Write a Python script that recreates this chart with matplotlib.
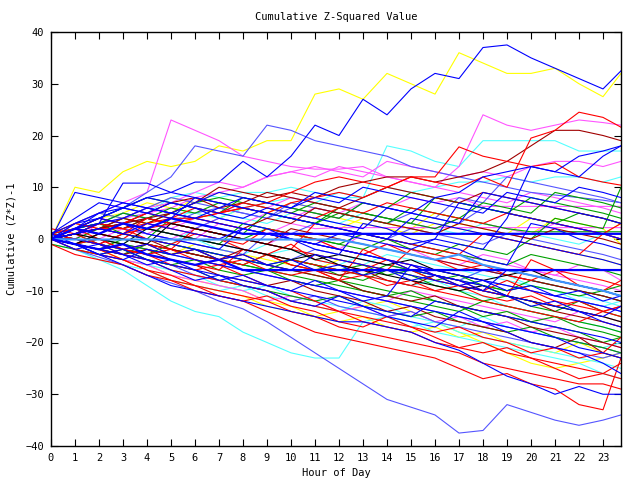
import matplotlib
matplotlib.use("Agg")
import matplotlib.pyplot as plt

# hour of day sample points
hours = list(range(24)) + [23.75]

# cumulative (Z*Z)-1 per run at each hour
red_runs = [
    [0, 1, 2, 2, 3, 4, 4, 5, 6, 5, 7, 8, 9, 8, 10, 12, 11, 10, 12, 10, 19.5, 21, 24.5, 23.5, 21.6],
    [0, 0, -1, 1, 2, 3, 4, 5, 6, 7, 9, 11, 12, 11, 10, 12, 12, 17.8, 16, 15, 14, 14.7, 12, 11, 10.4],
    [1, 0, -1, -3, -4, -6, -7, -8, -9, -10, -12, -13, -14, -15, -16, -17, -19, -21, -22, -21, -23, -25, -27, -26, -24],
    [0, -1, -2, -4, -6, -8, -10, -11, -12, -14, -16, -18, -19, -20, -21, -22, -23, -25, -27, -26, -28, -29, -32, -33, -23],
    [2, 1, 3, 2, 0, -1, 1, 0, -2, -3, -1, -4, -5, -6, -4, -6, -8, -9, -10, -8, -10, -12, -13, -14, -13],
    [0, 2, 1, 0, 3, 2, 1, 0, -1, 2, 1, 0, -2, -3, -1, -3, -4, -6, -5, -7, -8, -6, -9, -10, -11],
    [-1, -3, -4, -5, -7, -8, -9, -11, -12, -11, -13, -14, -16, -17, -15, -17, -18, -17, -19, -20, -22, -21, -23, -22, -19],
    [0, -1, -2, -1, -3, -5, -6, -5, -7, -9, -10, -12, -14, -16, -17, -18, -20, -21, -20, -22, -23, -24, -25, -26, -27],
    [1, 2, 0, -2, -1, -3, -2, -4, -5, -3, -5, -6, -8, -2, -4, -5, -7, -8, -10, -11, -4, -6, -7, -8, -9],
    [0, -1, 1, 0, -1, -2, 2, 1, 0, -1, -2, 3, 2, 1, 0, -1, -2, -3, 1, 0, -1, -2, -3, 1, 0],
    [1, 3, 2, 1, 4, 3, 2, 1, 0, -1, -2, -3, -4, -5, -6, -2, -3, -4, -5, -6, -7, -8, -9, -10, -8],
    [0, -2, -3, -4, -6, -7, -9, -10, -11, -12, -14, -15, -17, -18, -19, -20, -21, -22, -24, -25, -26, -27, -28, -28, -29],
    [0, 1, -1, -2, -3, -4, -5, -6, -2, -3, -4, -5, -6, -7, -8, -9, -10, -11, -12, -13, -14, -15, -16, -14, -15],
    [0, 2, 4, 3, 5, 4, 6, 5, 7, 6, 5, 4, 6, 5, 7, 6, 5, 4, 3, 5, 4, 3, 2, 1, 3],
    [0, -1, 0, -2, -3, -2, -4, -5, -4, -6, -7, -6, -8, -7, -9, -8, -10, -9, -11, -12, -11, -13, -12, -14, -13],
]
green_runs = [
    [0, 1, 2, 4, 3, 5, 7, 8, 7, 6, 5, 7, 6, 5, 4, 3, 2, 4, 3, 2, 1.4, 1.4, 1.4, 1.4, 1.4],
    [0, -1, 1, 3, 2, 1, 0, -1, 3, 2, 1, 0, -1, 1, 0, -2, -3, -1, -2, -3, 0, 4, 3, 2, 10],
    [1, 0, -1, -2, -4, -5, -6, -8, -9, -10, -11, -12, -11, -13, -14, -15, -14, -16, -17, -18, -17, -19, -20, -21, -22],
    [0, 2, 3, 1, 0, 4, 3, 2, 1, 5, 4, 3, 6, 5, 4, 3, 8, 7, 6, 5, 4, 3, 5, 4, 3],
    [-1, -2, -3, -2, -4, -5, -4, -6, -7, -6, -8, -9, -8, -10, -11, -10, -12, -13, -15, -14, -16, -15, -17, -18, -19],
    [0, 1, -1, -2, -3, -1, -2, -4, -5, -6, -4, -5, -7, -8, -6, -7, -9, -10, -12, -11, -13, -14, -12, -14, -15],
    [0, -1, -2, -3, -1, -2, -3, -4, -5, -3, -4, -5, -6, -7, -5, -6, -7, -8, -9, -10, -8, -9, -10, -11, -12],
    [1, 2, 3, 5, 4, 3, 2, 1, 0, 2, 1, 0, -1, -2, 0, -1, -2, -3, -4, -5, -3, -4, -5, -6, -7],
    [0, 0, 2, 1, 0, -1, -2, -3, -4, -5, -6, -7, -8, -9, -10, -11, -12, -13, -14, -15, -16, -17, -18, -20, -19],
    [0, 2, 4, 6, 8, 7, 6, 5, 8, 7, 6, 5, 4, 7, 6, 9, 8, 7, 6, 5, 8, 7, 6, 5, 4],
    [0, 1, 3, 2, 4, 6, 5, 7, 6, 5, 4, 3, 5, 4, 3, 6, 5, 4, 7, 6, 5, 9, 8, 7, 6],
    [0, -1, 0, -1, -2, -3, -2, -3, -4, -5, -4, -5, -6, -5, -7, -6, -8, -7, -9, -10, -9, -10, -11, -10, -9],
    [0, -1, -2, 0, -1, -2, -3, -4, -5, -6, -7, -8, -9, -10, -11, -12, -13, -14, -12, -13, -14, -15, -16, -17, -18],
]
blue_runs = [
    [0, 2, 4, 6, 8, 9, 11, 11, 15, 12, 16, 22, 20, 27, 24, 29, 32, 31, 37, 37.5, 35, 33, 31, 29, 32.5],
    [0, 2, 3, 4, 6, 5, 4, 6, 8, 7, 6, 9, 8, 7, 6, 5, 8, 9, 12, 13, 14, 13, 16, 17, 18],
    [0, 1, 2, 1, 3, 2, 1, 0, 2, 1, 0, -1, 1, 0, -1, -2, 0, -1, -2, 4, 14, 13, 12, 16, 18],
    [0, -1, -3, -5, -7, -9, -10, -11, -12, -13, -14, -15, -16, -16, -17, -18, -20, -21.5, -24, -26.5, -28, -30, -28.5, -30, -30],
    [0, 9, 8, 7, 6, 5, 4, 3, 2, 1, 0, -1, -2, -3, -4, -5, -6, -7, -8, -9, -10, -11, -12, -13, -14],
    [0, 1, 3, 10.8, 10.8, 9, 8, 7, 6, 5, 4, 3, 2, 1, 0, -1, 0, 7, 6, 5, 4, 3, 2, 1, 0],
    [1, -1, -3, -2, -4, -6, -8, -7, -9, -10, -12, -13, -11, -13, -15, -16, -17, -14, -16, -18, -20, -21, -22, -24, -26],
    [0, 2, 4, 3, 1, 0, -1, -2, 2, 1, 0, -2, -3, 3, 2, 0, -1, -2, -4, -5, 3, 2, 0, -1, -2],
    [0, 3, 5, 6, 5, 7, 6, 4, 3, 2, 0, -1, -2, -3, -4, -6, -7, -8, -9, -11, -12, -13, -14, -16, -17],
    [0, -2, -1, -3, -5, -4, -6, -8, -7, -9, -10, -8, -10, -12, -11, -5, -7, -8, -10, -11, -13, -12, -14, -15, -13],
    [0, 1, 2, 1, 0, -1, -2, -3, -4, -5, -6, -3, -4, -5, -6, -7, -8, -9, -10, -6, -7, -8, -9, -10, -11],
    [0, -1, -2, -3, -4, -5, -6, -7, -8, -9, -10, -11, -12, -13, -14, -15, -12, -13, -14, -15, -16, -17, -18, -19, -20],
    [1, 4, 7, 6, 5, 4, 8, 7, 6, 5, 4, 3, 2, 1, 0, 4, 3, 2, 1, 0, -1, -2, -3, -4, -5],
    [0, -1, -3, -4, -2, -3, -4, -5, -6, -7, -8, -9, -10, -11, -12, -13, -14, -15, -16, -17, -18, -19, -21, -22, -23],
    [0, 2, 5, 7, 6, 5, 7, 9, 8, 7, 6, 8, 7, 10, 9, 8, 7, 6, 5, 9, 8, 7, 10, 9, 8],
    [1, 3, 4, 6, 8, 7, 6, 5, 4, 6, 5, 4, 3, 2, 6, 5, 4, 3, 9, 8, 7, 6, 5, 4, 3],
    [0, 0, -1, -2, -1, -3, -2, -4, -3, -5, -4, -6, -5, -7, -6, -8, -7, -9, -8, -10, -9, -11, -10, -12, -11],
]
thick_blue_runs = [
    [0, 2, 1, 3, 2, 4, 3, 2, 1, 1, 1, 1, 1, 1, 1, 1, 1, 1, 1, 1, 1, 1, 1, 1, 1],
    [0, -1, -2, -1, -3, -4, -5, -4, -6, -6, -6, -6, -6, -6, -6, -6, -6, -6, -6, -6, -6, -6, -6, -6, -6],
]
magenta_runs = [
    [0, 3, 5, 7, 9, 23, 21, 19, 16, 15, 14, 13.5, 13.5, 14, 12, 11, 10, 14, 24, 22, 21, 22, 23, 22.5, 22],
    [0, 1, 2, 4, 5, 6, 8, 9, 10, 12, 13, 14, 13, 12, 15, 14, 13, 12, 13, 12, 14, 15, 15, 14, 15],
    [0, 1, 0, 2, 1, 3, 2, 4, 3, 5, 4, 6, 5, 7, 6, 8, 7, 8, 6.3, 6.3, 6.3, 6.3, 6.3, 6.3, 6.3],
    [0, 1, 2, 1, 3, 2, 4, 3, 2, 1, 3, 2, 2.2, 2.2, 2.2, 2.2, 2.2, 2.2, 2.2, 2.2, 2.2, 2.2, 2.2, 2.2, 2.2],
    [0, -2, -3, -4, -5, -7, -8, -9, -10, -12, -11, -12, -14, -13, -15, -14, -16, -15, -17, -16, -18, -17, -19, -20, -21],
    [1, 0, 3, 2, 1, 0, 2, 1, 0, -1, 1, 0, -2, -3, -1, -2, -4, -5, -3, -4, -6, -7, -5, -6, -8],
    [0, 1, 3, 4, 6, 7, 9, 11, 10, 12, 13, 12, 14, 13, 12, 11, 10, 9, 8, 7, 9, 8, 7, 6, 5],
    [0, -1, -2, -3, -1, -2, -3, -4, -6, -7, -8, -9, -10, -11, -12, -10, -11, -12, -13, -14, -15, -16, -14, -15, -16],
    [0, 2, 1, 3, 2, 1, 0, 3, 2, 1, 0, -1, -2, 1, 0, -1, -2, -3, -4, -5, -6, -7, -8, -9, -10],
    [0, 2, 4, 3, 5, 7, 6, 5, 7, 6, 8, 7, 6, 5, 4, 3, 2, 4, 3, 2, 1, 3, 2, 1, 0],
]
cyan_runs = [
    [0, 2, 3, 4, 5, 8, 9, 8, 9, 9, 10, 9, 8, 8, 18, 17, 15, 14, 19, 19, 19, 19, 17, 17, 17],
    [0, 1, 2, 3, 4, 5, 5, 4, 6, 7, 8, 7, 9, 8, 10, 9, 10, 11, 11, 12, 11, 12, 12, 11, 12],
    [0, -2, -4, -6, -9, -12, -14, -15, -18, -20, -22, -23, -23, -16, -15, -16, -18, -19, -20, -21, -22, -23, -24, -26, -27],
    [0, 1, 0, -1, 2, 1, 0, -2, -3, -1, -2, -4, -5, -3, -4, -6, -7, -8, -6, -7, -9, -10, -12, -13, -12],
    [-1, -2, -4, -5, -6, -8, -9, -10, -9, -11, -12, -13, -14, -12, -13, -15, -16, -17, -15, -17, -18, -19, -20, -21, -20],
    [0, -1, -3, -4, -5, -6, -7, -9, -10, -9, -11, -12, -13, -14, -15, -17, -16, -18, -19, -20, -21, -22, -23, -24, -25],
    [0, 2, 4, 3, 2, 1, 0, -1, -2, -3, -2, -4, -5, -7, -8, -9, -8, -10, -11, -13, -14, -15, -16, -17, -18],
    [1, 0, -1, 1, 0, -1, 2, 1, 0, -1, -2, -3, -4, -5, -3, -4, -5, -6, -7, -8, -9, -10, -11, -12, -13],
    [0, 1, 3, 5, 4, 3, 6, 5, 4, 3, 5, 4, 3, 5, 4, 3, 2, 1, 3, 2, 1, 0, -1, 1, 0],
]
sky_runs = [
    [0, -0.1, -0.1, -0.1, -0.1, -0.1, -0.1, -0.1, -0.1, -0.1, -0.1, -0.1, -0.1, -1, -2, -3, -4, -3, -5, -6, -7, -8, -9, -10, -11],
]
darkred_runs = [
    [0, 1, 2, 3, 4, 5, 7, 10, 9, 8, 9, 8, 10, 11, 12, 12, 11, 12, 13, 15, 18, 21, 21, 20, 19],
    [0, 1, 2, 3, 5, 7, 8, 6, 7, 9, 8, 7, 6, 8, 10, 9, 8, 7, 9, 8, 7, 6, 5, 4, 3],
    [0, -1, -2, -3, -2, -4, -5, -7, -8, -9, -8, -10, -11, -12, -14, -13, -15, -16, -17, -18, -20, -21, -19, -22, -23],
    [1, 0, -1, 1, 0, -2, -3, -4, -2, -3, -5, -6, -7, -6, -8, -9, -7, -9, -10, -11, -12, -14, -15, -16, -17],
    [0, 2, 1, 0, -1, -2, -3, -4, -3, -5, -6, -7, -8, -10, -11, -12, -11, -13, -14, -15, -17, -18, -19, -20, -21],
    [0, 1, 3, 2, 4, 3, 2, 1, 0, -1, 2, 1, 0, -1, -2, -3, -4, -5, -6, -7, -8, -9, -10, -11, -12],
    [0, 1, 2, 4, 3, 5, 4, 3, 2, 4, 3, 6, 5, 4, 3, 2, 1, 3, 2, 1, 0, 2, 1, 0, -1],
]
yellow_runs = [
    [0, 10, 9, 13, 15, 14, 15, 18, 17, 19, 19, 28, 29, 27, 32, 30, 28, 36, 34, 32, 32, 33, 30, 27.5, 32],
    [0, 2, 4, 5, 7, 6, 5, 4, 6, 5, 4, 3, 2, 4, 3, 2, 5, 4, 3, 2, 1, 4, 3, 2, -1],
    [0, -1, -3, -4, -5, -7, -8, -9, -10, -12, -13, -15, -16, -15, -17, -18, -17, -19, -18, -20, -21, -22, -20, -22, -23],
    [0, -1, -2, -4, -6, -8, -9, -10, -11, -13, -14, -15, -14, -13, -12, -14, -16, -18, -20, -22, -24, -25, -24, -23, -22],
    [1, 3, 5, 4, 6, 8, 7, 9, 8, 7, 6, 5, 4, 3, 2, 1, 3, 2, 1, 0, -1, -2, -3, -4, -5],
    [0, 1, 0, -1, -2, -3, -1, -2, -3, -4, -5, -6, -4, -5, -6, -7, -8, -9, -10, -11, -12, -13, -14, -15, -16],
    [0, 3, 2, 4, 6, 5, 8, 7, 6, 5, 7, 6, 5, 4, 3, 2, 1, 3, 2, 1, 4, 3, 2, 1, 3],
]
black_runs = [
    [0, 1, 0, -1, 2, 1, 0, -1, -2, -3, -4, -3, -5, -6, -7, -8, -9, -10, -9, -11, -12, -13, -14, -15, -16],
    [0, -1, 1, 0, -1, 3, 2, 1, 0, -1, -2, -4, -3, -4, -5, -4, -6, -7, -8, -7, -6, -8, -9, -10, -11],
]
lightblue_runs = [
    [0, 2, 4, 6, 9, 12, 18, 17, 16, 22, 21, 19, 18, 17, 16, 14, 13, 12, 11, 10, 9, 8.5, 8, 7.5, 7],
    [0, -1, -2, -3, -4, -5, -7, -8, -9, -10, -12, -11, -13, -14, -15, -14, -16, -17, -18, -19, -20, -21, -22, -23, -22],
    [0, 2, 1, 3, 4, 3, 5, 6, 5, 4, 6, 5, 4, 7, 6, 5, 4, 3, 6, 5, 4, 3, 2, 1, 0],
    [0, -2, -3.5, -5, -7, -8.5, -10, -12, -13.5, -16, -19, -22, -25, -28, -31, -32.5, -34, -37.5, -37, -32, -33.5, -35, -36, -35, -34],
    [0, 1, 2, 3, 2, 1, 0, -1, -2, -3, -4, -2, -3, -4, -5, -6, -7, -8, -6, -7, -8, -9, -10, -11, -12],
    [0, -1, -2, -1, -2, -3, -4, -5, -6, -7, -8, -9, -10, -11, -12, -13, -14, -15, -16, -17, -18, -19, -20, -21, -22],
    [0, 3, 5, 4, 6, 8, 7, 6, 5, 4, 7, 6, 5, 4, 3, 5, 4, 8, 7, 12, 11, 10, 9, 8, 7],
    [1, 2, 3, 2, 1, 0, -1, -2, -3, 1, 0, -1, -2, -3, -4, -5, -6, -7, -8, -9, -10, -11, -12, -13, -14],
    [0, 2, 3, 5, 4, 3, 2, 4, 3, 2, 1, 3, 2, 1, 0, 2, 1, 0, -1, 1, 0, -1, -2, -3, -4],
]

x_ticks = list(range(24))
y_ticks = list(range(-40, 41, 10))

fig = plt.figure(figsize=(6.4, 4.8), dpi=100)
ax = fig.add_axes([51 / 640, 34 / 480, 570 / 640, 414 / 480])

groups = [
    (yellow_runs, "#ffff00", 0.8),
    (cyan_runs, "#55ffff", 0.8),
    (magenta_runs, "#ff55ff", 0.8),
    (lightblue_runs, "#5555ff", 0.8),
    (green_runs, "#00a000", 0.8),
    (darkred_runs, "#a00000", 0.8),
    (red_runs, "#ff0000", 0.8),
    (black_runs, "#000000", 0.8),
    (blue_runs, "#0000ff", 0.8),
    (sky_runs, "#3c96ff", 1.5),
    (thick_blue_runs, "#0000ff", 1.6),
]
for runs, color, lw in groups:
    for vals in runs:
        ax.plot(hours, vals, color=color, linewidth=lw)

ax.set_xlim(0, 23.75)
ax.set_ylim(-40, 40)
ax.set_xticks(x_ticks)
ax.set_yticks(y_ticks)
ax.tick_params(direction="in", length=5, top=True, right=True, labelsize=7.5, pad=5)
for tl in ax.get_xticklabels() + ax.get_yticklabels():
    tl.set_family("DejaVu Sans Mono")
for s in ax.spines.values():
    s.set_linewidth(1.0)

ax.set_title("Cumulative Z-Squared Value", fontsize=7.5, family="DejaVu Sans Mono", pad=9)
ax.set_xlabel("Hour of Day", fontsize=7.5, family="DejaVu Sans Mono", labelpad=4)
ax.set_ylabel("Cumulative (Z*Z)-1", fontsize=7.5, family="DejaVu Sans Mono", labelpad=6)

fig.savefig("out.png", dpi=100)
